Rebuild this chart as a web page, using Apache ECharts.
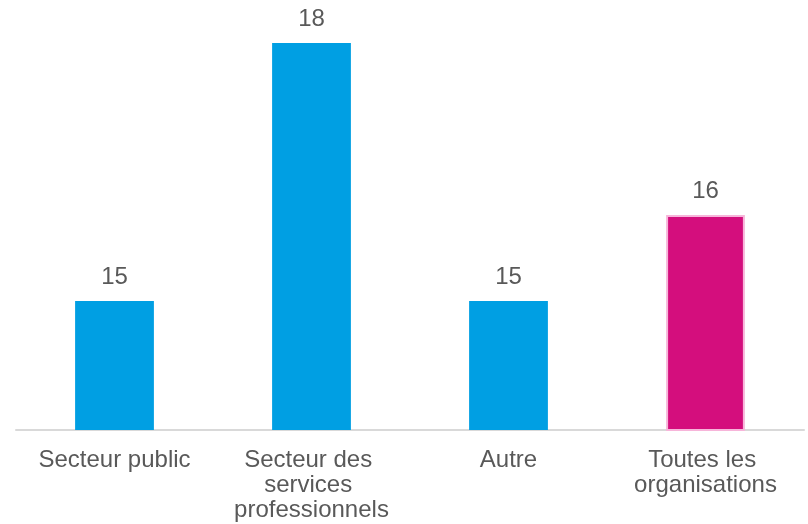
<!DOCTYPE html>
<html>
<head>
<meta charset="utf-8">
<script src="https://cdn.jsdelivr.net/npm/echarts@6/dist/echarts.min.js"></script>
<style>
  html, body { margin: 0; padding: 0; background: #ffffff; }
  #chart { width: 808px; height: 524px; }
</style>
</head>
<body>
<div id="chart"></div>
<script>
// Categories and values
const categories = ['Secteur public', 'Secteur des services professionnels', 'Autre', 'Toutes les organisations'];
const values = [15, 18, 15, 16];
// Index of the "all organisations" summary bar, drawn in magenta
const highlightIndex = 3;

const blue = '#009FE3';
const magenta = '#D40E7D';
const textColor = '#595959';
const fontFamily = '"Liberation Sans", Arial, sans-serif';

const chart = echarts.init(document.getElementById('chart'), null, { renderer: 'canvas' });

const seriesData = values.map((v, i) => {
  if (i === highlightIndex) {
    return {
      value: v,
      itemStyle: { color: magenta, borderColor: '#F7B5DA', borderWidth: 2 }
    };
  }
  return { value: v, itemStyle: { color: blue } };
});

chart.setOption({
  animation: false,
  backgroundColor: '#ffffff',
  grid: { left: 16, right: 4, top: 0, bottom: 94 },
  xAxis: {
    type: 'category',
    data: categories,
    axisLine: { lineStyle: { color: '#d9d9d9', width: 2 } },
    axisTick: { show: false },
    axisLabel: {
      color: textColor,
      fontFamily: fontFamily,
      fontSize: 24,
      lineHeight: 25,
      margin: 18,
      width: 190,
      overflow: 'break',
      interval: 0
    }
  },
  yAxis: {
    type: 'value',
    min: 13.5,
    max: 18.5,
    show: false,
    splitLine: { show: false }
  },
  series: [{
    type: 'bar',
    data: seriesData,
    barWidth: '40%',
    label: {
      show: true,
      position: 'top',
      distance: 12,
      color: textColor,
      fontFamily: fontFamily,
      fontSize: 24
    }
  }]
});
</script>
</body>
</html>
